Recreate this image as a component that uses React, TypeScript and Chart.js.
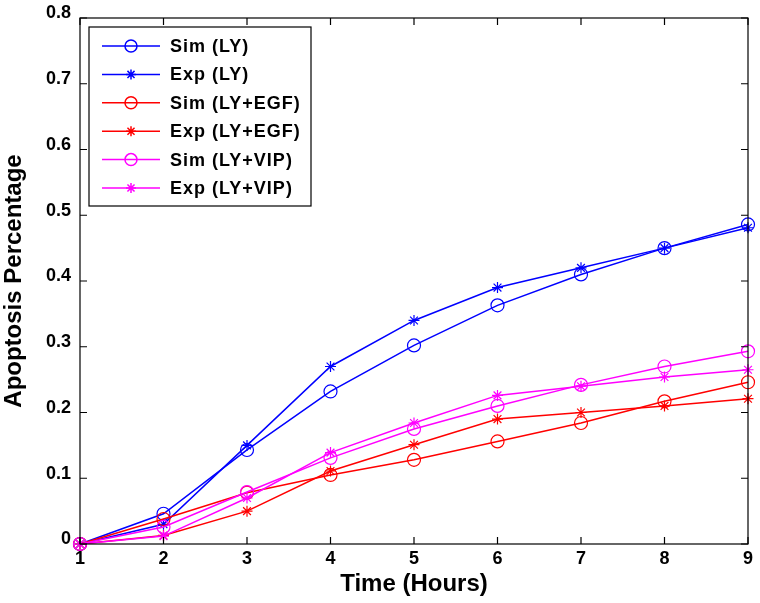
import React, { useEffect, useRef } from 'react';
import { Chart, registerables } from 'chart.js';

Chart.register(...registerables);

// ---- data ----
const hours = [1, 2, 3, 4, 5, 6, 7, 8, 9];
const xTickLabels = ['1', '2', '3', '4', '5', '6', '7', '8', '9'];
const yTickLabels = ['0', '0.1', '0.2', '0.3', '0.4', '0.5', '0.6', '0.7', '0.8'];

const simLY = [0, 0.046, 0.143, 0.232, 0.302, 0.363, 0.410, 0.450, 0.486];
const expLY = [0, 0.030, 0.150, 0.270, 0.340, 0.390, 0.420, 0.450, 0.481];
const simEGF = [0, 0.038, 0.078, 0.105, 0.128, 0.156, 0.184, 0.217, 0.246];
const expEGF = [0, 0.013, 0.050, 0.111, 0.151, 0.190, 0.200, 0.210, 0.221];
const simVIP = [0, 0.026, 0.079, 0.131, 0.175, 0.210, 0.242, 0.270, 0.293];
const expVIP = [0, 0.012, 0.070, 0.139, 0.184, 0.226, 0.240, 0.254, 0.265];

const seriesLabels = ['Sim (LY)', 'Exp (LY)', 'Sim (LY+EGF)', 'Exp (LY+EGF)', 'Sim (LY+VIP)', 'Exp (LY+VIP)'];
const seriesValues = [simLY, expLY, simEGF, expEGF, simVIP, expVIP];
const seriesColors = ['#0000ff', '#0000ff', '#ff0000', '#ff0000', '#ff00ff', '#ff00ff'];
const seriesMarkers = ['circle', 'star', 'circle', 'star', 'circle', 'star'];

const FONT = "'Liberation Sans', Arial, Helvetica, sans-serif";

function drawMarker(ctx: CanvasRenderingContext2D, style: string, x: number, y: number) {
  ctx.beginPath();
  if (style === 'circle') {
    ctx.arc(x, y, 6, 0, Math.PI * 2);
  } else {
    const r = 5;
    for (let k = 0; k < 4; k++) {
      const a = (k * Math.PI) / 4;
      ctx.moveTo(x - r * Math.cos(a), y - r * Math.sin(a));
      ctx.lineTo(x + r * Math.cos(a), y + r * Math.sin(a));
    }
  }
  ctx.stroke();
}

const framePlugin = {
  id: 'frameAndLegend',
  afterDraw(chart: any) {
    const { ctx, chartArea: a, scales } = chart;
    const xs = scales.x;
    const ys = scales.y;
    ctx.save();
    ctx.strokeStyle = '#000';
    ctx.lineWidth = 1.2;
    ctx.strokeRect(a.left, a.top, a.right - a.left, a.bottom - a.top);
    const tl = 7;
    ctx.beginPath();
    xs.ticks.forEach((t: any) => {
      const px = xs.getPixelForValue(t.value);
      ctx.moveTo(px, a.bottom);
      ctx.lineTo(px, a.bottom - tl);
      ctx.moveTo(px, a.top);
      ctx.lineTo(px, a.top + tl);
    });
    ys.ticks.forEach((t: any) => {
      const py = ys.getPixelForValue(t.value);
      ctx.moveTo(a.left, py);
      ctx.lineTo(a.left + tl, py);
      ctx.moveTo(a.right, py);
      ctx.lineTo(a.right - tl, py);
    });
    ctx.stroke();

    // legend box
    const bx = 89, by = 27, bw = 222, bh = 179;
    ctx.fillStyle = '#ffffff';
    ctx.fillRect(bx, by, bw, bh);
    ctx.strokeStyle = '#000';
    ctx.lineWidth = 1.2;
    ctx.strokeRect(bx, by, bw, bh);
    chart.data.datasets.forEach((ds: any, i: number) => {
      const cy = by + 19 + i * 28.4;
      ctx.strokeStyle = ds.borderColor;
      ctx.lineWidth = 1.5;
      ctx.beginPath();
      ctx.moveTo(bx + 13, cy);
      ctx.lineTo(bx + 71, cy);
      ctx.stroke();
      drawMarker(ctx, ds.pointStyle, bx + 42, cy);
      ctx.fillStyle = '#000';
      ctx.font = `bold 18px ${FONT}`;
      (ctx as any).letterSpacing = '1px';
      ctx.textAlign = 'left';
      ctx.textBaseline = 'middle';
      ctx.fillText(ds.label, bx + 81, cy + 1);
      (ctx as any).letterSpacing = '0px';
    });
    ctx.restore();
  },
};

export default function App() {
  const ref = useRef<HTMLCanvasElement>(null);
  useEffect(() => {
    const datasets = seriesLabels.map((label, i) => ({
      label,
      data: hours.map((h, j) => ({ x: h, y: seriesValues[i][j] })),
      borderColor: seriesColors[i],
      backgroundColor: 'rgba(0,0,0,0)',
      pointBorderColor: seriesColors[i],
      pointBackgroundColor: 'rgba(0,0,0,0)',
      pointStyle: seriesMarkers[i],
      pointRadius: seriesMarkers[i] === 'circle' ? 6.5 : 5.5,
      pointBorderWidth: 1.2,
      borderWidth: 1.5,
      tension: 0,
      clip: false,
      order: seriesLabels.length - 1 - i,
    }));
    const chart = new Chart(ref.current!, {
      type: 'line',
      data: { datasets } as any,
      options: {
        animation: false,
        responsive: false,
        maintainAspectRatio: false,
        devicePixelRatio: 1,
        layout: { padding: { left: 0, right: 12, top: 16, bottom: 0 } },
        plugins: { legend: { display: false }, tooltip: { enabled: false } },
        scales: {
          x: {
            type: 'linear',
            min: 1,
            max: 9,
            grid: { display: false, drawTicks: false },
            border: { display: false },
            ticks: {
              stepSize: 1,
              autoSkip: false,
              maxRotation: 0,
              padding: 4,
              color: '#000',
              font: { family: FONT, size: 18, weight: 'bold', lineHeight: 1.2 },
              callback: (v: any) => xTickLabels[Math.round(Number(v)) - 1],
            },
            title: {
              display: true,
              text: 'Time (Hours)',
              color: '#000',
              font: { family: FONT, size: 24, weight: 'bold', lineHeight: 1 },
              padding: { top: 0, bottom: 7 },
            },
            afterFit: (s: any) => {
              s.height = 59;
            },
          },
          y: {
            type: 'linear',
            min: 0,
            max: 0.8,
            grid: { display: false, drawTicks: false },
            border: { display: false },
            ticks: {
              stepSize: 0.1,
              padding: 9,
              color: '#000',
              font: { family: FONT, size: 18, weight: 'bold', lineHeight: '9px' },
              callback: (v: any) => [yTickLabels[Math.round(Number(v) * 10)], ''],
            },
            title: {
              display: true,
              text: 'Apoptosis Percentage',
              color: '#000',
              font: { family: FONT, size: 24, weight: 'bold', lineHeight: 1 },
              padding: { top: 2, bottom: 0 },
            },
            afterFit: (s: any) => {
              s.width = 80;
            },
          },
        },
      } as any,
      plugins: [framePlugin],
    });
    return () => chart.destroy();
  }, []);
  return (
    <div style={{ position: 'absolute', left: 0, top: 0, width: 760, height: 603, background: '#fff' }}>
      <canvas ref={ref} width={760} height={603} style={{ display: 'block', width: 760, height: 603 }} />
    </div>
  );
}
